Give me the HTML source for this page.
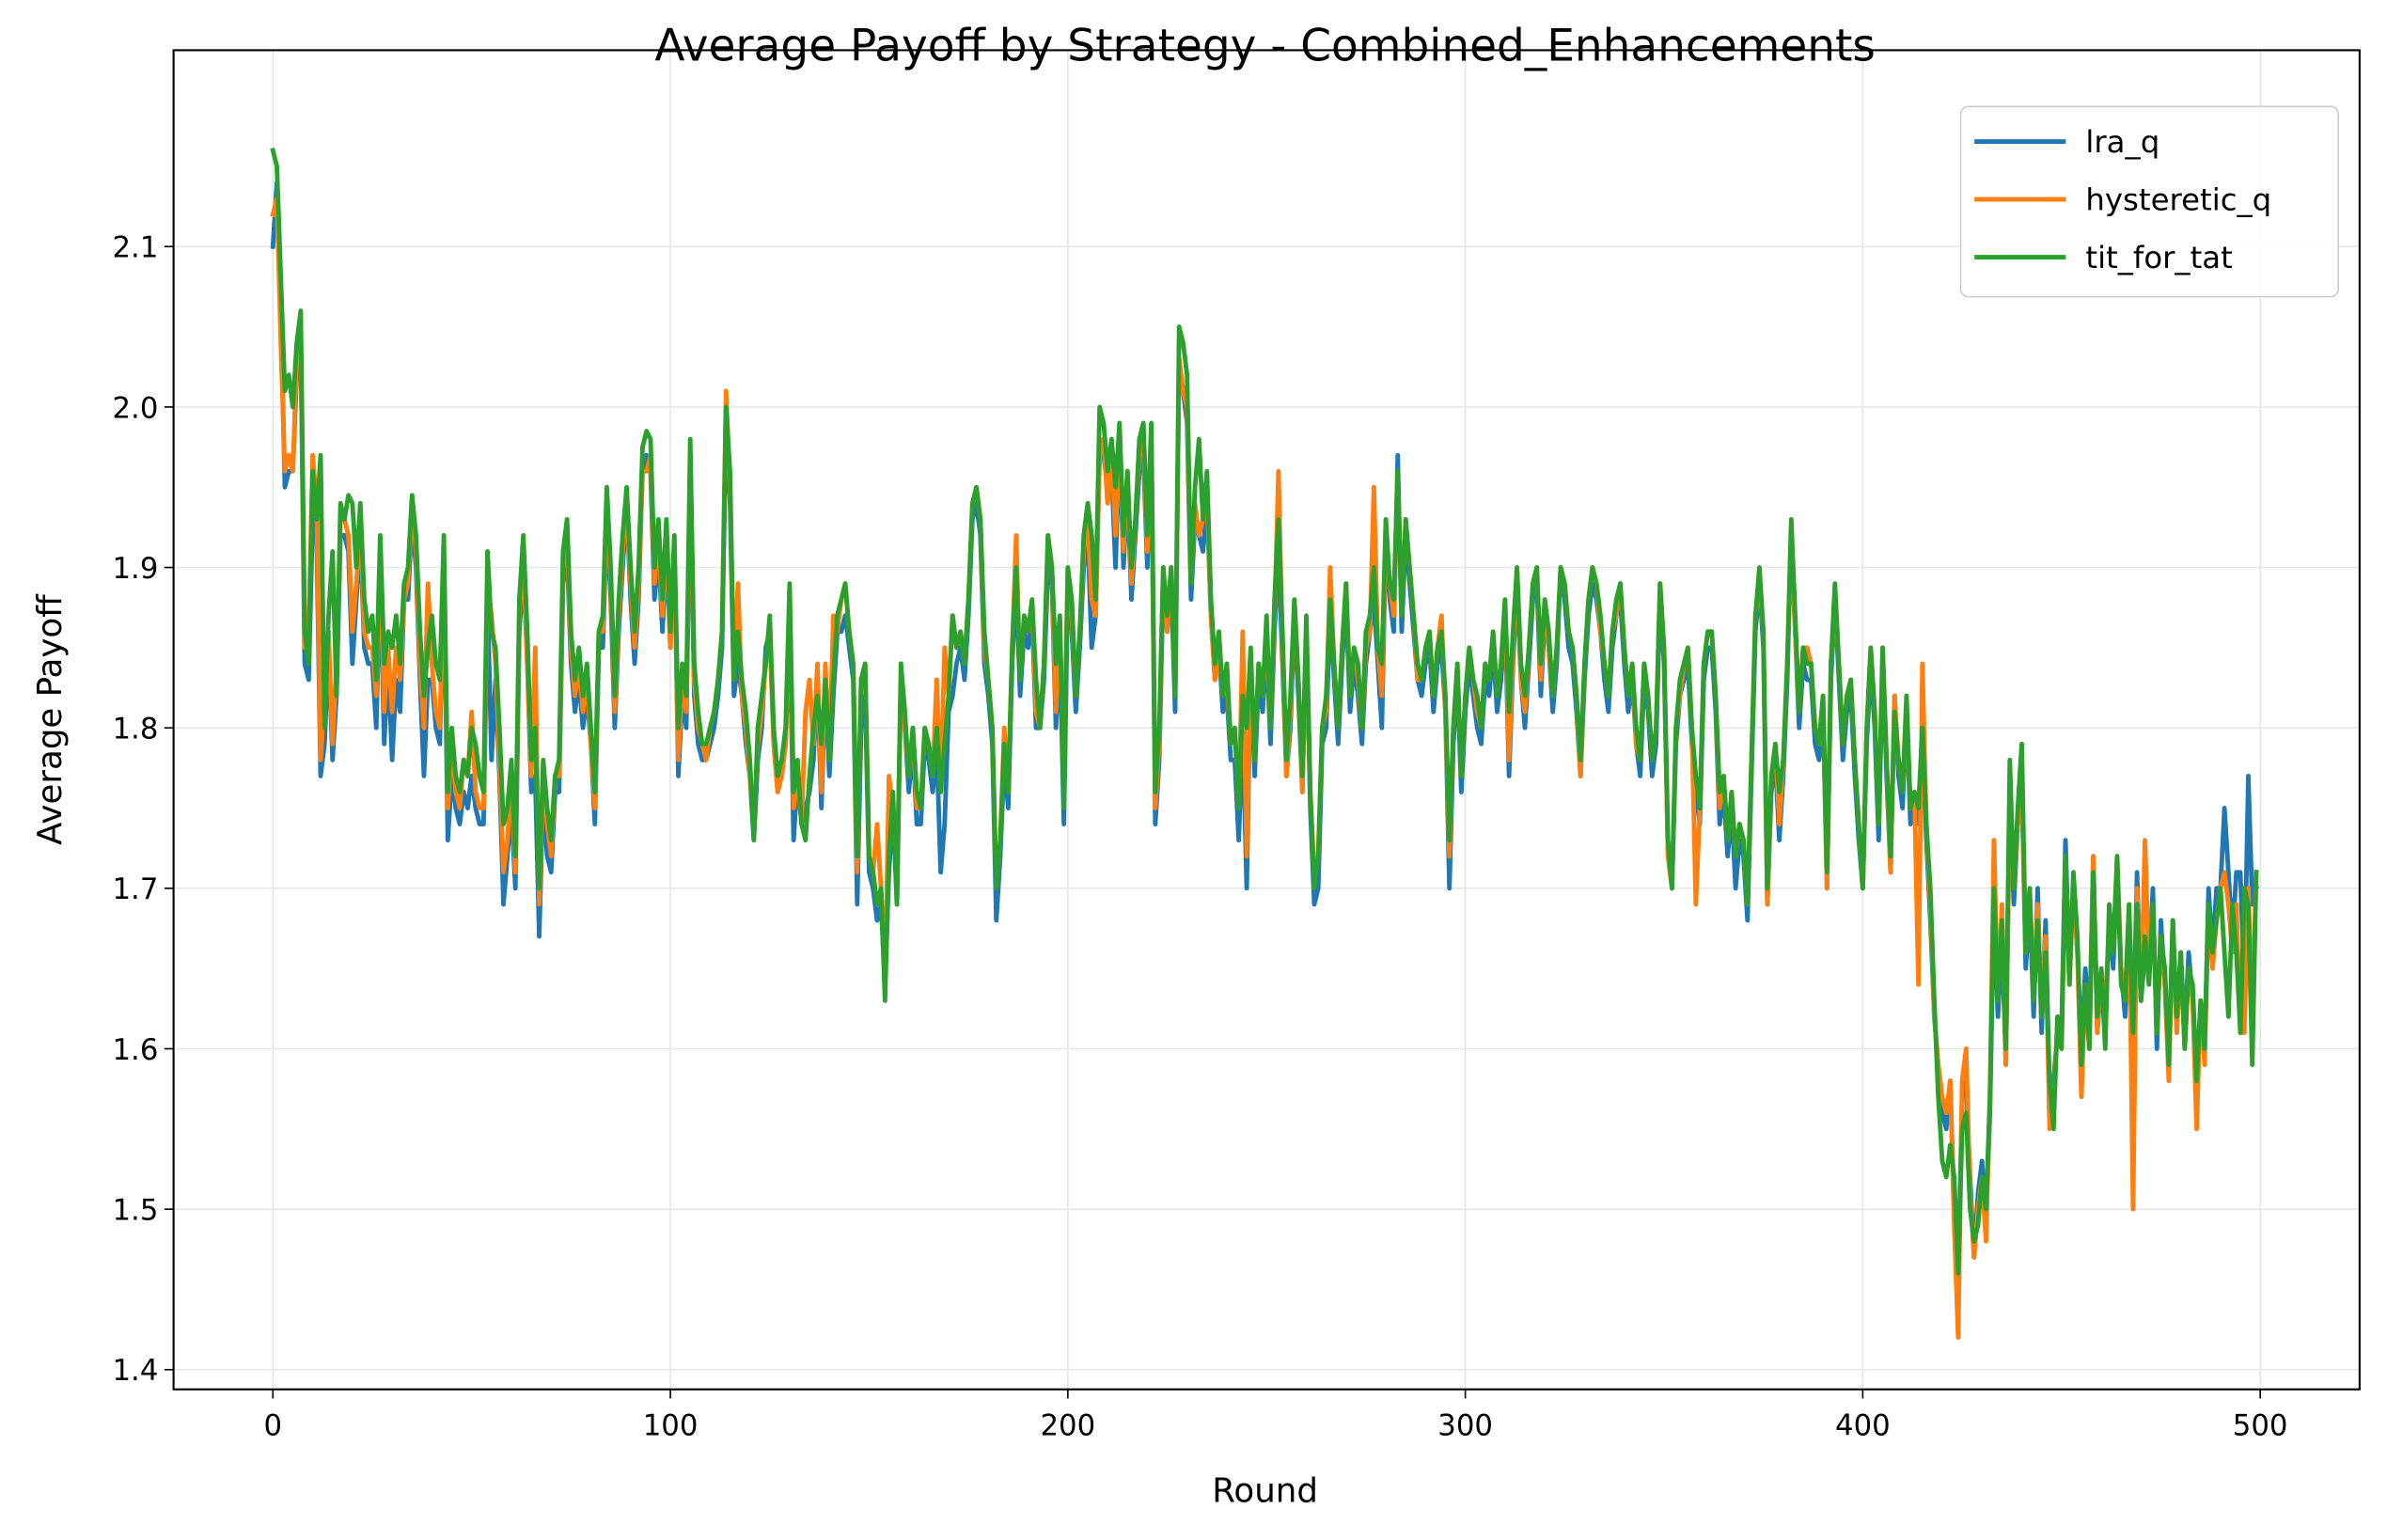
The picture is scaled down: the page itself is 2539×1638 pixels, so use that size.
<!DOCTYPE html>
<html><head><meta charset="utf-8">
<style>
html,body{margin:0;padding:0;background:#fff;}
svg{display:block;font-family:"DejaVu Sans","Liberation Sans",sans-serif;}
</style></head>
<body>
<svg id="chart" width="2539" height="1638" viewBox="0 0 1568 1012" preserveAspectRatio="none" xmlns="http://www.w3.org/2000/svg">
<rect width="1568" height="1012" fill="#fff"/>
<g id="grid"></g>
<g id="series"></g>
<rect x="114" y="33" width="1436" height="880" fill="none" stroke="#000" stroke-width="1.3"/>
<g id="xticks"></g>
<g id="yticks"></g>
<text x="831" y="40" font-size="29" text-anchor="middle">Average Payoff by Strategy - Combined_Enhancements</text>
<text x="831" y="987" font-size="22" text-anchor="middle">Round</text>
<text transform="translate(40,473) rotate(-90)" font-size="22" text-anchor="middle">Average Payoff</text>
<g id="legend">
<rect x="1288" y="70" width="248" height="125" rx="5" fill="#fff" fill-opacity="0.85" stroke="#ccc" stroke-width="1"/>
</g>
</svg>
<script>
const rounds = Array.from({length:500},(_, i)=>i);
const xTicks = [0,100,200,300,400,500];
const yTicks = [1.4,1.5,1.6,1.7,1.8,1.9,2.0,2.1];
const seriesNames = ["lra_q","hysteretic_q","tit_for_tat"];
const seriesColors = ["#1f77b4","#ff7f0e","#2ca02c"];
const lraQ = [2.10,2.14,2.06,1.95,1.96,1.96,2.02,2.04,1.84,1.83,1.93,1.92,1.77,1.79,1.85,1.78,1.82,1.92,1.92,1.91,1.84,1.88,1.92,1.85,1.84,1.84,1.80,1.90,1.79,1.84,1.78,1.83,1.81,1.88,1.88,1.93,1.90,1.83,1.77,1.83,1.83,1.80,1.79,1.90,1.73,1.77,1.75,1.74,1.76,1.75,1.77,1.75,1.74,1.74,1.88,1.78,1.83,1.77,1.69,1.72,1.75,1.70,1.86,1.90,1.84,1.76,1.77,1.67,1.76,1.72,1.71,1.76,1.76,1.89,1.91,1.84,1.81,1.83,1.80,1.82,1.79,1.74,1.85,1.85,1.93,1.88,1.80,1.86,1.90,1.94,1.88,1.84,1.88,1.96,1.97,1.96,1.88,1.91,1.86,1.91,1.85,1.91,1.77,1.82,1.80,1.96,1.82,1.79,1.78,1.78,1.79,1.80,1.82,1.85,1.99,1.94,1.82,1.84,1.82,1.79,1.77,1.73,1.78,1.80,1.85,1.86,1.79,1.76,1.77,1.79,1.87,1.73,1.77,1.74,1.75,1.76,1.78,1.83,1.75,1.83,1.77,1.82,1.86,1.86,1.87,1.85,1.83,1.69,1.80,1.82,1.71,1.70,1.68,1.69,1.64,1.71,1.75,1.69,1.83,1.80,1.76,1.79,1.74,1.74,1.79,1.78,1.76,1.79,1.71,1.74,1.81,1.82,1.84,1.85,1.83,1.87,1.93,1.94,1.92,1.84,1.82,1.79,1.68,1.72,1.78,1.75,1.84,1.89,1.82,1.86,1.85,1.87,1.80,1.80,1.83,1.90,1.89,1.80,1.85,1.74,1.89,1.86,1.81,1.85,1.90,1.92,1.85,1.87,1.97,1.97,1.95,1.96,1.90,1.98,1.90,1.95,1.88,1.92,1.96,1.97,1.90,1.98,1.74,1.78,1.89,1.86,1.89,1.81,2.03,2.01,1.99,1.88,1.93,1.92,1.91,1.94,1.87,1.83,1.85,1.81,1.82,1.78,1.78,1.73,1.80,1.70,1.84,1.77,1.83,1.81,1.85,1.79,1.86,1.91,1.84,1.77,1.80,1.87,1.82,1.76,1.86,1.75,1.69,1.70,1.79,1.80,1.87,1.83,1.79,1.84,1.88,1.81,1.84,1.82,1.79,1.84,1.86,1.88,1.84,1.80,1.92,1.88,1.86,1.97,1.86,1.92,1.89,1.86,1.83,1.82,1.84,1.85,1.81,1.84,1.85,1.81,1.70,1.79,1.83,1.76,1.81,1.84,1.82,1.80,1.79,1.83,1.82,1.85,1.81,1.83,1.87,1.77,1.84,1.89,1.83,1.80,1.84,1.88,1.89,1.82,1.87,1.85,1.81,1.84,1.90,1.88,1.85,1.84,1.81,1.77,1.83,1.87,1.89,1.88,1.86,1.83,1.81,1.85,1.87,1.88,1.84,1.81,1.83,1.79,1.77,1.83,1.81,1.77,1.79,1.88,1.84,1.72,1.70,1.79,1.82,1.83,1.84,1.79,1.76,1.74,1.83,1.85,1.85,1.81,1.74,1.76,1.72,1.75,1.70,1.73,1.72,1.68,1.77,1.86,1.89,1.85,1.69,1.76,1.78,1.73,1.77,1.83,1.92,1.86,1.80,1.84,1.83,1.83,1.79,1.78,1.81,1.70,1.83,1.88,1.83,1.78,1.81,1.82,1.77,1.73,1.70,1.79,1.84,1.80,1.73,1.84,1.77,1.71,1.82,1.77,1.75,1.81,1.74,1.75,1.74,1.79,1.73,1.68,1.62,1.59,1.56,1.55,1.58,1.50,1.46,1.57,1.58,1.52,1.47,1.51,1.53,1.49,1.56,1.69,1.62,1.67,1.59,1.76,1.69,1.74,1.77,1.65,1.69,1.62,1.70,1.61,1.68,1.57,1.58,1.61,1.61,1.73,1.65,1.70,1.66,1.60,1.65,1.61,1.72,1.61,1.64,1.62,1.68,1.65,1.71,1.65,1.62,1.68,1.60,1.71,1.63,1.66,1.65,1.70,1.60,1.68,1.64,1.59,1.68,1.61,1.66,1.61,1.66,1.63,1.58,1.62,1.60,1.70,1.66,1.70,1.70,1.75,1.71,1.67,1.71,1.71,1.64,1.77,1.69,1.70];
const hystereticQ = [2.12,2.13,2.04,1.96,1.97,1.96,2.03,2.05,1.85,1.86,1.97,1.94,1.78,1.82,1.86,1.79,1.84,1.93,1.93,1.92,1.86,1.89,1.93,1.86,1.85,1.85,1.82,1.91,1.81,1.85,1.81,1.85,1.83,1.88,1.89,1.94,1.91,1.84,1.80,1.89,1.84,1.81,1.80,1.91,1.75,1.79,1.76,1.75,1.78,1.77,1.81,1.76,1.75,1.75,1.89,1.87,1.84,1.78,1.71,1.73,1.77,1.71,1.87,1.91,1.84,1.77,1.85,1.69,1.77,1.74,1.72,1.77,1.77,1.90,1.92,1.85,1.82,1.84,1.81,1.83,1.79,1.75,1.86,1.86,1.94,1.89,1.81,1.87,1.91,1.94,1.89,1.85,1.89,1.96,1.96,1.97,1.89,1.92,1.87,1.92,1.85,1.91,1.78,1.83,1.81,1.97,1.83,1.80,1.79,1.78,1.80,1.81,1.83,1.86,2.01,1.95,1.83,1.89,1.82,1.80,1.77,1.74,1.79,1.81,1.84,1.86,1.79,1.76,1.77,1.79,1.88,1.75,1.77,1.74,1.81,1.83,1.79,1.84,1.76,1.84,1.78,1.87,1.86,1.88,1.89,1.86,1.84,1.71,1.83,1.84,1.72,1.71,1.74,1.70,1.64,1.77,1.75,1.70,1.83,1.80,1.77,1.80,1.75,1.75,1.80,1.79,1.77,1.83,1.76,1.85,1.82,1.87,1.85,1.86,1.84,1.88,1.94,1.95,1.93,1.85,1.83,1.80,1.70,1.73,1.80,1.76,1.85,1.92,1.83,1.87,1.86,1.88,1.81,1.80,1.84,1.92,1.90,1.81,1.86,1.78,1.90,1.87,1.82,1.86,1.91,1.93,1.88,1.87,1.97,1.98,1.94,1.97,1.92,1.98,1.91,1.96,1.89,1.93,1.97,1.98,1.91,1.98,1.75,1.79,1.90,1.86,1.90,1.82,2.03,2.01,2.00,1.89,1.94,1.92,1.93,1.95,1.87,1.83,1.85,1.82,1.83,1.79,1.80,1.75,1.86,1.72,1.84,1.78,1.84,1.82,1.86,1.80,1.87,1.96,1.85,1.77,1.81,1.88,1.83,1.76,1.86,1.76,1.71,1.72,1.80,1.81,1.90,1.84,1.80,1.85,1.89,1.82,1.85,1.83,1.80,1.85,1.86,1.95,1.85,1.82,1.92,1.89,1.87,1.96,1.87,1.93,1.90,1.87,1.83,1.83,1.85,1.86,1.82,1.85,1.87,1.81,1.72,1.80,1.84,1.77,1.82,1.85,1.83,1.81,1.80,1.84,1.83,1.86,1.82,1.84,1.88,1.78,1.85,1.90,1.83,1.81,1.85,1.89,1.90,1.83,1.88,1.85,1.82,1.85,1.90,1.89,1.86,1.85,1.82,1.77,1.84,1.88,1.90,1.89,1.86,1.84,1.82,1.86,1.87,1.89,1.85,1.82,1.84,1.79,1.78,1.84,1.82,1.78,1.80,1.89,1.85,1.72,1.70,1.80,1.82,1.84,1.85,1.80,1.69,1.75,1.84,1.86,1.86,1.82,1.75,1.77,1.73,1.76,1.72,1.74,1.73,1.69,1.78,1.87,1.89,1.86,1.69,1.77,1.79,1.74,1.78,1.84,1.92,1.86,1.81,1.85,1.85,1.84,1.80,1.79,1.82,1.70,1.84,1.88,1.84,1.79,1.82,1.83,1.78,1.74,1.70,1.80,1.85,1.81,1.74,1.85,1.78,1.71,1.82,1.78,1.76,1.81,1.75,1.76,1.64,1.84,1.74,1.69,1.62,1.59,1.57,1.56,1.58,1.49,1.42,1.58,1.60,1.51,1.47,1.50,1.52,1.48,1.57,1.73,1.63,1.69,1.59,1.76,1.70,1.74,1.76,1.66,1.70,1.63,1.69,1.62,1.67,1.55,1.56,1.62,1.60,1.72,1.64,1.70,1.66,1.57,1.64,1.60,1.72,1.61,1.65,1.62,1.68,1.66,1.72,1.65,1.63,1.69,1.50,1.70,1.63,1.73,1.65,1.69,1.61,1.67,1.64,1.58,1.68,1.61,1.66,1.60,1.65,1.63,1.55,1.63,1.59,1.69,1.65,1.68,1.70,1.71,1.69,1.66,1.69,1.61,1.61,1.70,1.62,1.71];
const titForTat = [2.16,2.15,2.08,2.01,2.02,2.00,2.04,2.06,1.86,1.84,1.96,1.93,1.97,1.80,1.87,1.91,1.82,1.94,1.93,1.945,1.94,1.90,1.94,1.88,1.86,1.87,1.83,1.92,1.84,1.86,1.85,1.87,1.84,1.89,1.90,1.945,1.92,1.86,1.82,1.85,1.87,1.84,1.83,1.92,1.76,1.80,1.77,1.76,1.78,1.77,1.80,1.79,1.77,1.76,1.91,1.86,1.85,1.80,1.74,1.75,1.78,1.72,1.88,1.92,1.86,1.78,1.80,1.70,1.78,1.75,1.73,1.77,1.78,1.91,1.93,1.86,1.83,1.85,1.82,1.84,1.80,1.76,1.86,1.87,1.95,1.90,1.82,1.88,1.92,1.95,1.90,1.86,1.90,1.975,1.985,1.98,1.90,1.93,1.88,1.93,1.86,1.92,1.80,1.84,1.82,1.98,1.84,1.81,1.79,1.79,1.80,1.81,1.83,1.86,2.00,1.96,1.83,1.86,1.83,1.81,1.78,1.73,1.80,1.82,1.84,1.87,1.80,1.77,1.78,1.80,1.89,1.76,1.78,1.74,1.73,1.77,1.80,1.82,1.79,1.83,1.78,1.83,1.87,1.88,1.89,1.86,1.84,1.72,1.83,1.84,1.72,1.71,1.69,1.70,1.63,1.72,1.76,1.69,1.84,1.81,1.77,1.80,1.76,1.75,1.80,1.79,1.77,1.80,1.76,1.79,1.82,1.87,1.85,1.86,1.84,1.88,1.94,1.95,1.93,1.86,1.83,1.80,1.70,1.73,1.79,1.76,1.85,1.90,1.83,1.87,1.86,1.88,1.83,1.80,1.84,1.92,1.90,1.84,1.87,1.75,1.90,1.88,1.82,1.86,1.92,1.94,1.92,1.88,2.00,1.99,1.96,1.98,1.95,1.99,1.92,1.96,1.90,1.93,1.98,1.99,1.92,1.99,1.76,1.80,1.90,1.87,1.90,1.82,2.05,2.04,2.02,1.89,1.95,1.98,1.93,1.96,1.88,1.84,1.86,1.82,1.84,1.79,1.80,1.75,1.82,1.80,1.85,1.78,1.84,1.82,1.87,1.80,1.88,1.93,1.86,1.78,1.82,1.88,1.83,1.77,1.87,1.76,1.70,1.72,1.80,1.82,1.88,1.84,1.80,1.85,1.89,1.82,1.85,1.84,1.80,1.86,1.87,1.90,1.85,1.84,1.93,1.89,1.88,1.96,1.87,1.93,1.90,1.87,1.84,1.83,1.85,1.86,1.82,1.85,1.86,1.82,1.73,1.80,1.84,1.77,1.82,1.85,1.83,1.82,1.80,1.84,1.83,1.86,1.82,1.84,1.88,1.81,1.86,1.90,1.84,1.82,1.85,1.89,1.90,1.84,1.88,1.86,1.82,1.85,1.90,1.89,1.86,1.85,1.82,1.78,1.84,1.88,1.90,1.89,1.87,1.84,1.82,1.86,1.88,1.89,1.85,1.82,1.84,1.80,1.78,1.84,1.82,1.78,1.80,1.89,1.85,1.73,1.70,1.80,1.83,1.84,1.85,1.80,1.77,1.75,1.84,1.86,1.86,1.82,1.76,1.77,1.73,1.76,1.72,1.74,1.73,1.69,1.78,1.87,1.90,1.86,1.70,1.77,1.79,1.76,1.78,1.84,1.93,1.87,1.81,1.85,1.84,1.84,1.80,1.79,1.82,1.71,1.84,1.89,1.84,1.79,1.82,1.83,1.78,1.74,1.70,1.80,1.85,1.81,1.74,1.85,1.78,1.72,1.81,1.78,1.76,1.82,1.75,1.76,1.75,1.80,1.74,1.70,1.63,1.57,1.53,1.52,1.54,1.52,1.46,1.55,1.56,1.50,1.48,1.49,1.52,1.50,1.57,1.70,1.63,1.68,1.60,1.78,1.70,1.75,1.79,1.66,1.70,1.63,1.68,1.62,1.66,1.58,1.55,1.62,1.60,1.72,1.64,1.71,1.67,1.59,1.64,1.60,1.71,1.62,1.65,1.60,1.69,1.66,1.72,1.64,1.63,1.69,1.61,1.69,1.63,1.67,1.64,1.69,1.61,1.67,1.65,1.59,1.68,1.62,1.66,1.60,1.65,1.64,1.58,1.63,1.60,1.69,1.66,1.68,1.70,1.66,1.62,1.69,1.66,1.61,1.70,1.69,1.59,1.71];

const NS = "http://www.w3.org/2000/svg";
const xMin = -25, xMax = 525, yMin = 1.3877, yMax = 2.2224;
const L = 114, R = 1550, T = 33, B = 913;
function xs(v){ return L + (v - xMin) / (xMax - xMin) * (R - L); }
function ys(v){ return B - (v - yMin) / (yMax - yMin) * (B - T); }
function mk(tag, attrs, parent){ const e = document.createElementNS(NS, tag); for (const k in attrs) e.setAttribute(k, attrs[k]); parent.appendChild(e); return e; }

const grid = document.getElementById('grid');
const xg = document.getElementById('xticks');
const yg = document.getElementById('yticks');
xTicks.forEach(t => {
  const x = xs(t);
  const gl = mk('line', {x1:x, x2:x, y1:T, y2:B, stroke:'#e6e6e6', 'stroke-width':1}, grid);
  
  
  const tk = mk('line', {x1:x, x2:x, y1:B, y2:B+6, stroke:'#000', 'stroke-width':1}, xg);
  
  
  const lb = mk('text', {x:x, y:B+30, 'font-size':19, 'text-anchor':'middle'}, xg);
  lb.textContent = String(t);
  
  
});
yTicks.forEach(t => {
  const y = ys(t);
  const gl = mk('line', {x1:L, x2:R, y1:y, y2:y, stroke:'#e6e6e6', 'stroke-width':1}, grid);
  
  
  const tk = mk('line', {x1:L-6, x2:L, y1:y, y2:y, stroke:'#000', 'stroke-width':1}, yg);
  
  
  const lb = mk('text', {x:L-10, y:y+7, 'font-size':19, 'text-anchor':'end'}, yg);
  lb.textContent = t.toFixed(1);
  
  
});

const sg = document.getElementById('series');
const allSeries = [lraQ, hystereticQ, titForTat];
allSeries.forEach((vals, si) => {
  const d = vals.map((v, i) => (i ? 'L' : 'M') + xs(rounds[i]).toFixed(2) + ' ' + ys(v).toFixed(2)).join(' ');
  const p = mk('path', {d:d, fill:'none', stroke:seriesColors[si], 'stroke-width':3, 'stroke-linejoin':'round', 'stroke-linecap':'square'}, sg);
  
  
});

const lg = document.getElementById('legend');
seriesNames.forEach((n, i) => {
  const y = 93 + i * 38;
  const ln = mk('line', {x1:1297, x2:1357, y1:y, y2:y, stroke:seriesColors[i], 'stroke-width':3}, lg);
  
  
  const tx = mk('text', {x:1370, y:y+7, 'font-size':20}, lg);
  tx.textContent = n;
  
  
});
</script>
</body></html>
